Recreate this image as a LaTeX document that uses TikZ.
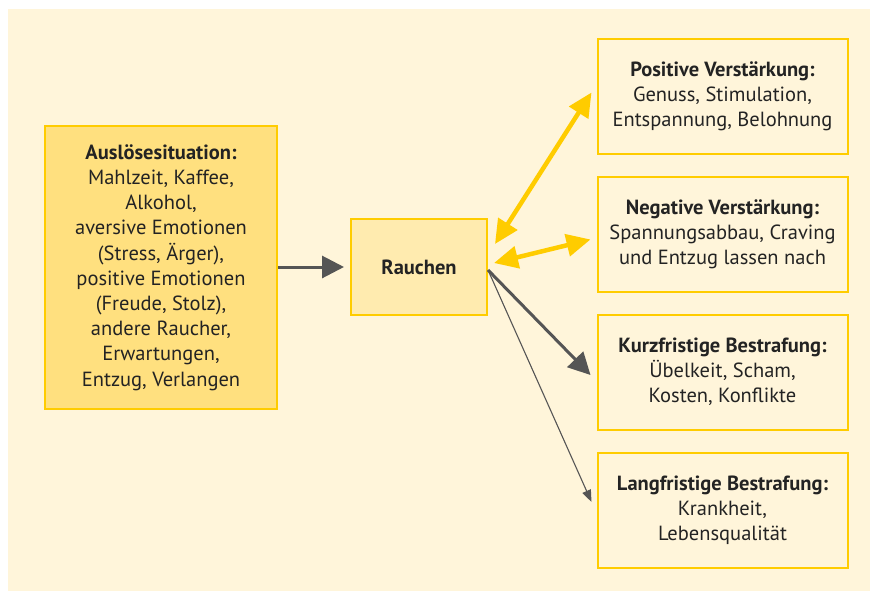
\documentclass[tikz,border=0pt]{standalone}
\usepackage{fontspec}
\setmainfont{PT Sans}
\usetikzlibrary{arrows.meta,calc}
\definecolor{bgc}{RGB}{255,245,218}
\definecolor{strongfill}{RGB}{255,224,127}
\definecolor{lightfill}{RGB}{255,235,175}
\definecolor{yel}{RGB}{255,204,0}
\definecolor{darkg}{RGB}{85,85,85}
\definecolor{txt}{RGB}{35,35,35}
\begin{document}
\begin{tikzpicture}[x=1pt,y=-1pt,
  box/.style={draw=yel, line width=2pt, inner sep=0pt, align=center,
    font=\fontsize{20.5}{25.2}\selectfont, text=txt},
  outbox/.style={box, fill=bgc, minimum width=250pt, minimum height=115pt},
  yarrow/.style={draw=yel, line width=4.5pt, {Triangle[length=24pt,width=22pt]}-{Triangle[length=24pt,width=22pt]}},
  garrow/.style={draw=darkg, line width=3pt, -{Triangle[length=22pt,width=22pt]}},
  thinarrow/.style={draw=darkg, line width=1.1pt, -{Triangle[length=12pt,width=9pt]}}
]
\useasboundingbox (0,0) rectangle (870,591);
\fill[bgc] (8,9) rectangle (870,591);

\node[box, fill=strongfill, minimum width=232pt, minimum height=283pt] (ausl) at (161,267.5)
  {\textbf{Auslösesituation:}\\Mahlzeit, Kaffee,\\Alkohol,\\aversive Emotionen\\(Stress, Ärger),\\positive Emotionen\\(Freude, Stolz),\\andere Raucher,\\Erwartungen,\\Entzug, Verlangen};
\node[box, fill=lightfill, minimum width=136pt, minimum height=96pt] (rauch) at (419,267) {\textbf{Rauchen}};
\node[outbox] (pos) at (722.5,96.5) {\textbf{Positive Verstärkung:}\\Genuss, Stimulation,\\Entspannung, Belohnung};
\node[outbox] (neg) at (722.5,234.5) {\textbf{Negative Verstärkung:}\\Spannungsabbau, Craving\\und Entzug lassen nach};
\node[outbox] (kurz) at (722.5,372) {\textbf{Kurzfristige Bestrafung:}\\Übelkeit, Scham,\\Kosten, Konflikte};
\node[outbox] (lang) at (722.5,510.5) {\textbf{Langfristige Bestrafung:}\\Krankheit,\\Lebensqualität};

\draw[garrow, shorten >=6pt] (ausl.east |- rauch.west) -- (rauch.west);
\draw[yarrow] ($(rauch.north east)+(7,26)$) -- ($(pos.west)+(-5,-4)$);
\draw[yarrow] ($(rauch.east)+(6,-4)$) -- ($(neg.west)+(-6,5)$);
\draw[garrow] ($(rauch.east)+(0,3)$) -- ($(kurz.west)+(-6,3)$);
\draw[thinarrow] ($(rauch.east)+(0,3)$) -- ($(lang.west)+(-5,-8.5)$);
\end{tikzpicture}
\end{document}
